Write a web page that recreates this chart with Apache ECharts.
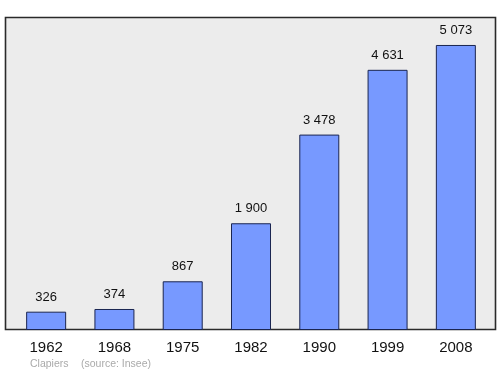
<!DOCTYPE html>
<html>
<head>
<meta charset="utf-8">
<script src="https://cdn.jsdelivr.net/npm/echarts@6/dist/echarts.min.js"></script>
<style>html,body{margin:0;padding:0;background:#fff}#c{width:500px;height:374px}</style>
</head>
<body>
<div id="c"></div>
<script>
const years = ['1962', '1968', '1975', '1982', '1990', '1999', '2008'];
const population = [326, 374, 867, 1900, 3478, 4631, 5073];
const footerTexts = ['Clapiers', '(source: Insee)'];

function fmt(v) {
  return String(v).replace(/\B(?=(\d{3})+(?!\d))/g, ' ');
}

const chart = echarts.init(document.getElementById('c'), null, {renderer: 'canvas'});
chart.setOption({
  animation: false,
  backgroundColor: '#ffffff',
  graphic: [
    {type: 'rect', z: -10, shape: {x: 5.5, y: 17.5, width: 490, height: 312},
     style: {fill: '#ececec', stroke: '#2a2a2a', lineWidth: 1.6}},
    {type: 'text', left: 30, top: 359, style: {text: footerTexts[0], fill: '#aaaaaa', font: '10.5px "Liberation Sans", Arial, sans-serif'}},
    {type: 'text', left: 81, top: 359, style: {text: footerTexts[1], fill: '#aaaaaa', font: '10.5px "Liberation Sans", Arial, sans-serif'}}
  ],
  grid: {left: 12, right: 10, top: 17, bottom: 44, containLabel: false},
  xAxis: {
    type: 'category',
    data: years,
    axisLine: {show: false},
    axisTick: {show: false},
    axisLabel: {color: '#111', fontSize: 15, margin: 10, fontFamily: '"Liberation Sans", Arial, sans-serif'}
  },
  yAxis: {
    type: 'value', min: 0, max: 5571,
    show: false, splitLine: {show: false}
  },
  series: [{
    type: 'bar',
    data: population,
    barWidth: 40,
    itemStyle: {color: '#7799ff', borderColor: '#1a2550', borderWidth: 1},
    label: {
      show: true, position: 'top', distance: 8,
      color: '#111', fontSize: 13, fontFamily: '"Liberation Sans", Arial, sans-serif',
      formatter: p => fmt(p.value)
    }
  }]
});
</script>
</body>
</html>
